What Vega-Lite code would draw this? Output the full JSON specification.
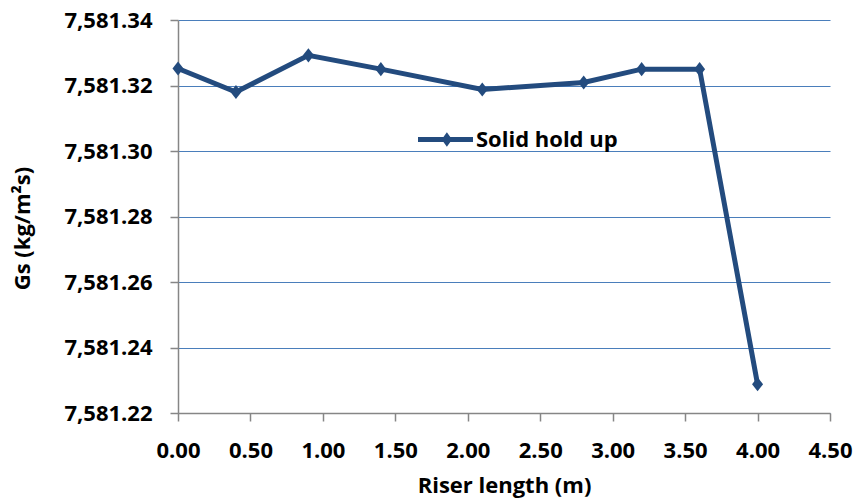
{
  "$schema": "https://vega.github.io/schema/vega-lite/v6.json",
  "width": 652,
  "height": 393,
  "autosize": {"type": "none"},
  "padding": {"left": 178, "top": 20, "right": 26, "bottom": 89},
  "background": "white",
  "config": {
    "view": {"stroke": null},
    "font": "Open Sans",
    "axis": {
      "labelFont": "Open Sans", "labelFontWeight": "bold", "labelFontSize": 22, "labelColor": "#000000",
      "titleFont": "Open Sans", "titleFontWeight": "bold", "titleFontSize": 22, "titleColor": "#000000",
      "domainColor": "#868686", "tickColor": "#868686", "domainWidth": 1.5, "tickWidth": 1.5, "tickSize": 8
    }
  },
  "data": {
    "values": [
      {"x": 0.0, "y": 7581.3252, "series": "Solid hold up"},
      {"x": 0.4, "y": 7581.318, "series": "Solid hold up"},
      {"x": 0.9, "y": 7581.3292, "series": "Solid hold up"},
      {"x": 1.4, "y": 7581.325, "series": "Solid hold up"},
      {"x": 2.1, "y": 7581.3188, "series": "Solid hold up"},
      {"x": 2.8, "y": 7581.3209, "series": "Solid hold up"},
      {"x": 3.2, "y": 7581.325, "series": "Solid hold up"},
      {"x": 3.6, "y": 7581.325, "series": "Solid hold up"},
      {"x": 4.0, "y": 7581.2288, "series": "Solid hold up"}
    ]
  },
  "encoding": {
    "x": {
      "field": "x", "type": "quantitative",
      "scale": {"domain": [0, 4.5], "nice": false, "zero": false},
      "axis": {
        "title": "Riser length (m)", "values": [0, 0.5, 1, 1.5, 2, 2.5, 3, 3.5, 4, 4.5],
        "format": ".2f", "grid": false, "labelPadding": 19, "titlePadding": 14, "labelFlush": false
      }
    },
    "y": {
      "field": "y", "type": "quantitative",
      "scale": {"domain": [7581.22, 7581.34], "nice": false, "zero": false},
      "axis": {
        "title": "Gs (kg/m²s)", "values": [7581.22, 7581.24, 7581.26, 7581.28, 7581.3, 7581.32, 7581.34],
        "format": ",.2f", "grid": true, "gridColor": "#4a7ebb", "gridWidth": 1.2,
        "labelPadding": 18, "titlePadding": 29, "titleY": 208, "labelFlush": false
      }
    }
  },
  "layer": [
    {
      "mark": {"type": "line", "color": "#234b7e", "strokeWidth": 5},
      "encoding": {}
    },
    {
      "mark": {"type": "point", "shape": "M0,-1.15L0.9,0L0,1.15L-0.9,0Z", "filled": true, "size": 150, "opacity": 1},
      "encoding": {
        "color": {
          "field": "series", "type": "nominal",
          "scale": {"range": ["#234b7e"]},
          "legend": {
            "title": null, "orient": "none", "legendX": 240, "legendY": 92,
            "symbolType": "M-1,-0.09H1V0.09H-1Z M0.05,-0.26L0.24,0L0.05,0.26L-0.14,0Z",
            "symbolSize": 3025, "symbolStrokeWidth": 0, "symbolOpacity": 1,
            "labelFont": "Open Sans", "labelFontWeight": "bold", "labelFontSize": 22, "labelColor": "#000000",
            "labelOffset": 3, "padding": 0
          }
        }
      }
    }
  ]
}
